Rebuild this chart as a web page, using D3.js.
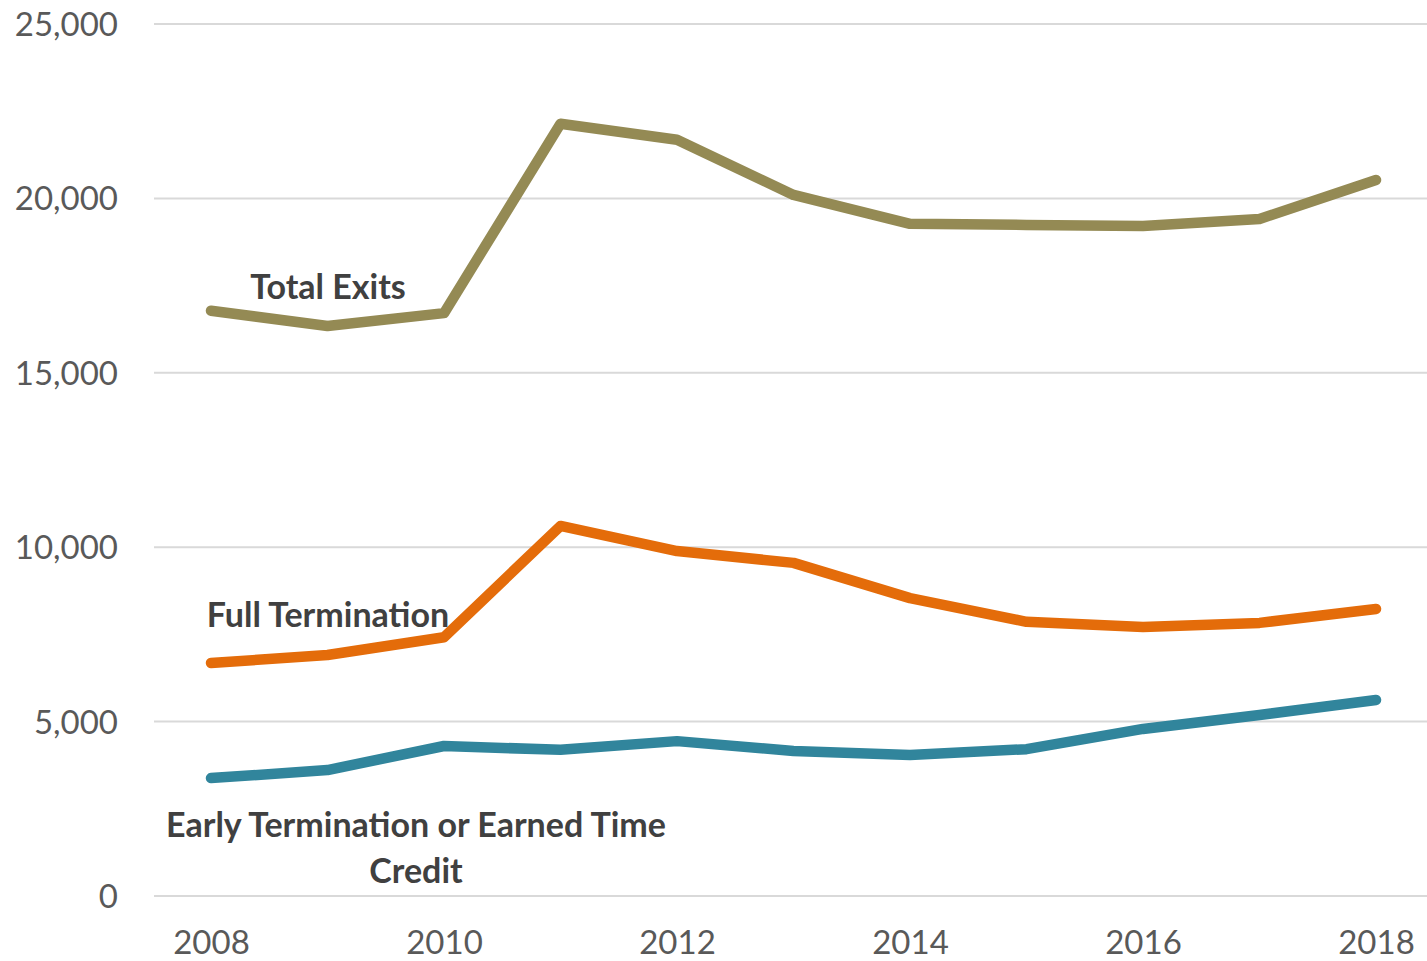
<!DOCTYPE html>
<html>
<head>
<meta charset="utf-8">
<script src="https://cdn.jsdelivr.net/npm/d3@7"></script>
<style>
  body { margin: 0; background: #fff; }
  text { font-family: Lato, "Open Sans", sans-serif; }
</style>
</head>
<body>
<script>
var years = [2008, 2009, 2010, 2011, 2012, 2013, 2014, 2015, 2016, 2017, 2018];
var totalExits = [16780, 16340, 16710, 22140, 21680, 20100, 19270, 19240, 19210, 19410, 20530];
var fullTermination = [6680, 6910, 7420, 10610, 9890, 9550, 8540, 7860, 7710, 7830, 8230];
var earlyTermination = [3380, 3610, 4300, 4190, 4440, 4160, 4040, 4210, 4790, 5190, 5620];
var yTicks = [0, 5000, 10000, 15000, 20000, 25000];
var xTicks = [2008, 2010, 2012, 2014, 2016, 2018];

var series = [
  { name: 'Total Exits', values: totalExits, color: '#948A54' },
  { name: 'Full Termination', values: fullTermination, color: '#E46C0A' },
  { name: 'Early Termination', values: earlyTermination, color: '#31859C' }
];

var W = 1427, H = 961;

var svg = d3.select('body')
  .append('svg')
  .attr('width', W)
  .attr('height', H);

var xScale = d3.scaleLinear().domain([2008, 2018]).range([211, 1376]);
var yScale = d3.scaleLinear().domain([0, 25000]).range([896, 24]);

// gridlines
svg.append('g')
  .selectAll('line')
  .data(yTicks)
  .enter()
  .append('line')
  .attr('x1', 154)
  .attr('x2', W)
  .attr('y1', function (d) { return yScale(d); })
  .attr('y2', function (d) { return yScale(d); })
  .attr('stroke', '#d9d9d9')
  .attr('stroke-width', 2);

var yAxis = d3.axisLeft(yScale).tickValues(yTicks).tickSize(0).tickPadding(0)
  .tickFormat(d3.format(','));
var yg = svg.append('g')
  .attr('transform', 'translate(118,0)')
  .call(yAxis);
yg.select('.domain').remove();
yg.selectAll('text')
  .attr('fill', '#595959')
  .style('font-size', '33px')
  .attr('dy', '0.35em');

var xAxis = d3.axisBottom(xScale).tickValues(xTicks).tickSize(0).tickPadding(0)
  .tickFormat(d3.format('d'));
var xg = svg.append('g')
  .attr('transform', 'translate(0,931)')
  .call(xAxis);
xg.select('.domain').remove();
xg.selectAll('text')
  .attr('fill', '#595959')
  .style('font-size', '33px')
  .attr('dy', '0.71em');

var line = d3.line()
  .x(function (d, i) { return xScale(years[i]); })
  .y(function (d) { return yScale(d); });

svg.selectAll('.series')
  .data(series)
  .enter()
  .append('path')
  .attr('class', 'series')
  .attr('d', function (d) { return line(d.values); })
  .attr('fill', 'none')
  .attr('stroke', function (d) { return d.color; })
  .attr('stroke-width', 10.5)
  .attr('stroke-linecap', 'round')
  .attr('stroke-linejoin', 'round');

// labels
var labels = [
  { lines: ['Total Exits'], x: 328, y: 287 },
  { lines: ['Full Termination'], x: 328, y: 615 },
  { lines: ['Early Termination or Earned Time', 'Credit'], x: 416, y: 825 }
];
labels.forEach(function (l) {
  var t = svg.append('text')
    .attr('x', l.x)
    .attr('y', l.y)
    .attr('text-anchor', 'middle')
    .attr('fill', '#404040')
    .style('font-size', '34px')
    .style('font-weight', 'bold');
  l.lines.forEach(function (s, i) {
    t.append('tspan')
      .attr('x', l.x)
      .attr('dy', i === 0 ? '0.35em' : 46)
      .text(s);
  });
});
</script>
</body>
</html>
